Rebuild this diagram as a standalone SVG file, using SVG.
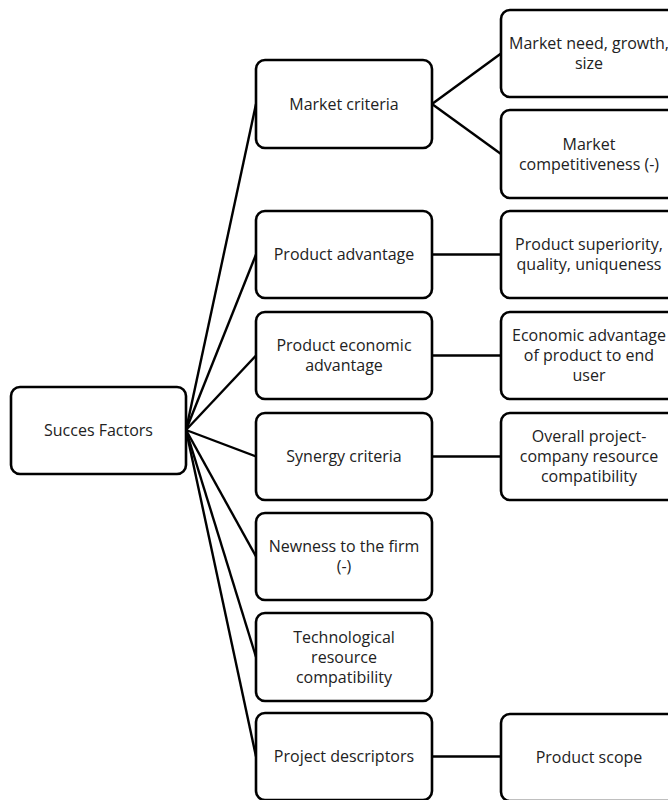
<svg xmlns="http://www.w3.org/2000/svg" width="668" height="800" viewBox="0 0 668 800">
<style>
.box{fill:#fff;stroke:#000;stroke-width:2.6}
.t{font-family:"Open Sans","Liberation Sans",sans-serif;font-size:16px;fill:#222;text-anchor:middle}
.c{stroke:#000;stroke-width:2.4;fill:none}
</style>
<rect width="668" height="800" fill="#fff"/>
<g id="connectors">
<line class="c" x1="186" y1="430" x2="256" y2="104"/>
<line class="c" x1="186" y1="430" x2="256" y2="254.5"/>
<line class="c" x1="186" y1="430" x2="256" y2="355.5"/>
<line class="c" x1="186" y1="430" x2="256" y2="456.5"/>
<line class="c" x1="186" y1="430" x2="256" y2="556.5"/>
<line class="c" x1="186" y1="430" x2="256" y2="657"/>
<line class="c" x1="186" y1="430" x2="256" y2="756.5"/>
<line class="c" x1="432" y1="104" x2="501" y2="53.5"/>
<line class="c" x1="432" y1="104" x2="501" y2="154"/>
<line class="c" x1="432" y1="254.5" x2="501" y2="254.5"/>
<line class="c" x1="432" y1="355.5" x2="501" y2="355.5"/>
<line class="c" x1="432" y1="456.5" x2="501" y2="456.5"/>
<line class="c" x1="432" y1="756.5" x2="501" y2="756.5"/>
</g>
<g id="succes-factors"><rect class="box" x="11" y="387" width="175" height="87" rx="9"/><text class="t" x="98.5" y="436">Succes Factors</text></g>
<g id="market-criteria"><rect class="box" x="256" y="60" width="176" height="88" rx="9"/><text class="t" x="344" y="109.5">Market criteria</text></g>
<g id="product-advantage"><rect class="box" x="256" y="211" width="176" height="87" rx="9"/><text class="t" x="344" y="260">Product advantage</text></g>
<g id="product-economic-advantage"><rect class="box" x="256" y="312" width="176" height="87" rx="9"/><text class="t" x="344" y="351">Product economic</text><text class="t" x="344" y="371">advantage</text></g>
<g id="synergy-criteria"><rect class="box" x="256" y="413" width="176" height="87" rx="9"/><text class="t" x="344" y="462">Synergy criteria</text></g>
<g id="newness"><rect class="box" x="256" y="513" width="176" height="87" rx="9"/><text class="t" x="344" y="552">Newness to the firm</text><text class="t" x="344" y="572">(-)</text></g>
<g id="technological"><rect class="box" x="256" y="613" width="176" height="88" rx="9"/><text class="t" x="344" y="642.5">Technological</text><text class="t" x="344" y="662.5">resource</text><text class="t" x="344" y="682.5">compatibility</text></g>
<g id="project-descriptors"><rect class="box" x="256" y="713" width="176" height="87" rx="9"/><text class="t" x="344" y="762">Project descriptors</text></g>
<g id="market-need"><rect class="box" x="501" y="10" width="176" height="87" rx="9"/><text class="t" x="589" y="49">Market need, growth,</text><text class="t" x="589" y="69">size</text></g>
<g id="market-competitiveness"><rect class="box" x="501" y="110" width="176" height="88" rx="9"/><text class="t" x="589" y="149.5">Market</text><text class="t" x="589" y="169.5">competitiveness (-)</text></g>
<g id="product-superiority"><rect class="box" x="501" y="211" width="176" height="87" rx="9"/><text class="t" x="589" y="250">Product superiority,</text><text class="t" x="589" y="270">quality, uniqueness</text></g>
<g id="economic-advantage"><rect class="box" x="501" y="312" width="176" height="87" rx="9"/><text class="t" x="589" y="341">Economic advantage</text><text class="t" x="589" y="361">of product to end</text><text class="t" x="589" y="381">user</text></g>
<g id="overall-project"><rect class="box" x="501" y="413" width="176" height="87" rx="9"/><text class="t" x="589" y="442">Overall project-</text><text class="t" x="589" y="462">company resource</text><text class="t" x="589" y="482">compatibility</text></g>
<g id="product-scope"><rect class="box" x="501" y="714" width="176" height="87" rx="9"/><text class="t" x="589" y="763">Product scope</text></g>
</svg>
